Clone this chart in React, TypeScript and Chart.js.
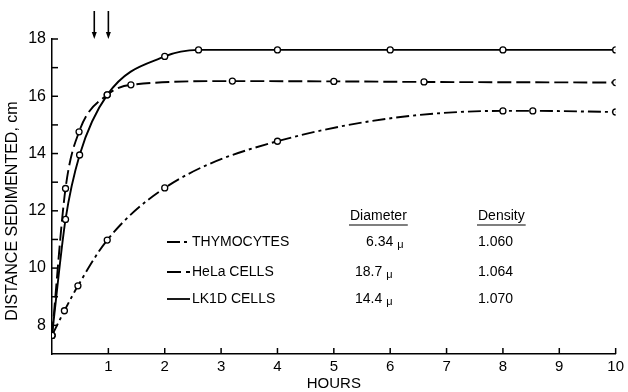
import React, { useEffect, useRef } from 'react';
import { Chart, registerables } from 'chart.js';

Chart.register(...registerables);

// ---- Data ----
const hoursLK1D = [0, 0.24, 0.49, 0.98, 2.0, 2.6, 4, 6, 8, 10];
const distLK1D = [7.65, 11.7, 13.95, 16.05, 17.39, 17.62, 17.62, 17.62, 17.62, 17.62];

const hoursHeLa = [0, 0.24, 0.48, 0.98, 1.4, 3.2, 5, 6.6, 10];
const distHeLa = [7.65, 12.78, 14.76, 16.05, 16.4, 16.53, 16.52, 16.5, 16.48];

const hoursThymo = [0, 0.22, 0.46, 0.98, 2.0, 4, 8, 8.53, 10];
const distThymo = [7.65, 8.51, 9.38, 10.98, 12.8, 14.43, 15.49, 15.49, 15.45];

const cellNames = ['THYMOCYTES', 'HeLa CELLS', 'LK1D CELLS'];
const diameters = ['6.34', '18.7', '14.4'];
const densities = ['1.060', '1.064', '1.070'];
const arrowHours = [0.75, 1.0];

const xTickValues = [1, 2, 3, 4, 5, 6, 7, 8, 9, 10];
const yTickValues = [8, 9, 10, 11, 12, 13, 14, 15, 16, 17, 18];

const FONT = '"Liberation Sans", Arial, sans-serif';
const DASH_HELA = [14, 5];
const DASH_THYMO = [13, 4, 3, 4];

function toXY(xs: number[], ys: number[]) {
  return xs.map((x, i) => ({ x, y: ys[i] }));
}

const decorPlugin = {
  id: 'decor',
  beforeDraw(chart: any) {
    const ctx = chart.ctx;
    ctx.save();
    ctx.fillStyle = '#fff';
    ctx.fillRect(0, 0, chart.width, chart.height);
    ctx.restore();
  },
  afterDraw(chart: any) {
    const ctx: CanvasRenderingContext2D = chart.ctx;
    const xs = chart.scales.x;
    const ys = chart.scales.y;
    ctx.save();
    ctx.strokeStyle = '#000';
    ctx.fillStyle = '#000';
    ctx.lineWidth = 1.5;
    // inward tick marks
    yTickValues.forEach((v) => {
      const py = ys.getPixelForValue(v);
      ctx.beginPath();
      ctx.moveTo(xs.left, py);
      ctx.lineTo(xs.left + 6, py);
      ctx.stroke();
    });
    xTickValues.forEach((v) => {
      const px = xs.getPixelForValue(v);
      ctx.beginPath();
      ctx.moveTo(px, ys.bottom);
      ctx.lineTo(px, ys.bottom - 6);
      ctx.stroke();
    });
    // arrows
    arrowHours.forEach((h) => {
      const px = xs.getPixelForValue(h);
      ctx.lineWidth = 1.6;
      ctx.beginPath();
      ctx.moveTo(px, 11);
      ctx.lineTo(px, 33);
      ctx.stroke();
      ctx.beginPath();
      ctx.moveTo(px - 2.5, 32);
      ctx.lineTo(px + 2.5, 32);
      ctx.lineTo(px, 39);
      ctx.closePath();
      ctx.fill();
    });
    // axis titles
    ctx.font = `15px ${FONT}`;
    ctx.textAlign = 'center';
    ctx.textBaseline = 'middle';
    ctx.fillText('HOURS', (xs.left + xs.right) / 2, 384);
    ctx.save();
    ctx.translate(13, 211);
    ctx.rotate(-Math.PI / 2);
    ctx.font = `16px ${FONT}`;
    ctx.fillText('DISTANCE SEDIMENTED, cm', 0, 0);
    ctx.restore();

    // legend table
    ctx.textAlign = 'left';
    ctx.font = `14px ${FONT}`;
    ctx.fillText('Diameter', 350, 216);
    ctx.fillText('Density', 478, 216);
    ctx.lineWidth = 1.2;
    const wD = ctx.measureText('Diameter').width;
    const wDe = ctx.measureText('Density').width;
    ctx.beginPath();
    ctx.moveTo(349, 225);
    ctx.lineTo(350 + wD + 1, 225);
    ctx.moveTo(477, 225);
    ctx.lineTo(478 + wDe + 1, 225);
    ctx.stroke();

    const rowY = [242, 272, 299];
    const dashes = [DASH_THYMO, DASH_HELA, []];
    const diamX = [366, 355, 355];
    rowY.forEach((ry, i) => {
      ctx.save();
      ctx.lineWidth = 1.8;
      ctx.setLineDash(dashes[i]);
      ctx.beginPath();
      ctx.moveTo(167, ry);
      ctx.lineTo(190, ry);
      ctx.stroke();
      ctx.restore();
      ctx.font = `14px ${FONT}`;
      ctx.fillText(cellNames[i], 192, ry);
      ctx.fillText(diameters[i], diamX[i], ry);
      const w = ctx.measureText(diameters[i] + ' ').width;
      ctx.font = `11px ${FONT}`;
      ctx.fillText('\u03bc', diamX[i] + w, ry + 3);
      ctx.font = `14px ${FONT}`;
      ctx.fillText(densities[i], 478, ry);
    });
    ctx.restore();
  },
};

export default function App() {
  const ref = useRef<HTMLCanvasElement | null>(null);
  useEffect(() => {
    if (!ref.current) return;
    const common = {
      borderColor: '#000',
      pointRadius: 3,
      pointBorderWidth: 1.3,
      pointBackgroundColor: '#fff',
      pointBorderColor: '#000',
      cubicInterpolationMode: 'monotone' as const,
      fill: false,
      borderWidth: 1.9,
    };
    const chart = new Chart(ref.current, {
      type: 'line',
      data: {
        datasets: [
          { ...common, label: 'THYMOCYTES', data: toXY(hoursThymo, distThymo), borderDash: DASH_THYMO },
          { ...common, label: 'HeLa CELLS', data: toXY(hoursHeLa, distHeLa), borderDash: DASH_HELA },
          { ...common, label: 'LK1D CELLS', data: toXY(hoursLK1D, distLK1D) },
        ],
      },
      options: {
        animation: false,
        responsive: false,
        devicePixelRatio: 1,
        layout: { padding: { top: 39, right: 7, left: 0, bottom: 0 } },
        plugins: { legend: { display: false }, tooltip: { enabled: false } },
        scales: {
          x: {
            type: 'linear',
            min: 0,
            max: 10,
            afterFit: (s: any) => { s.height = 38; },
            grid: { display: false, drawTicks: false },
            border: { display: true, color: '#000', width: 1.5 },
            ticks: {
              stepSize: 1,
              autoSkip: false,
              maxRotation: 0,
              padding: 4,
              color: '#000',
              font: { family: FONT, size: 15 },
              callback: (v: any) => (v === 0 ? '' : String(v)),
            },
          },
          y: {
            type: 'linear',
            min: 7,
            max: 18,
            afterFit: (s: any) => { s.width = 52; },
            grid: { display: false, drawTicks: false },
            border: { display: true, color: '#000', width: 1.5 },
            ticks: {
              stepSize: 1,
              autoSkip: false,
              padding: 6,
              color: '#000',
              font: { family: FONT, size: 16 },
              callback: (v: any) => (v % 2 === 0 ? String(v) : ''),
            },
          },
        },
      },
      plugins: [decorPlugin],
    });
    return () => chart.destroy();
  }, []);
  return (
    <div style={{ position: 'fixed', left: 0, top: 0, width: 628, height: 392, background: '#fff' }}>
      <canvas ref={ref} width={628} height={392} style={{ display: 'block', width: 628, height: 392 }} />
    </div>
  );
}
